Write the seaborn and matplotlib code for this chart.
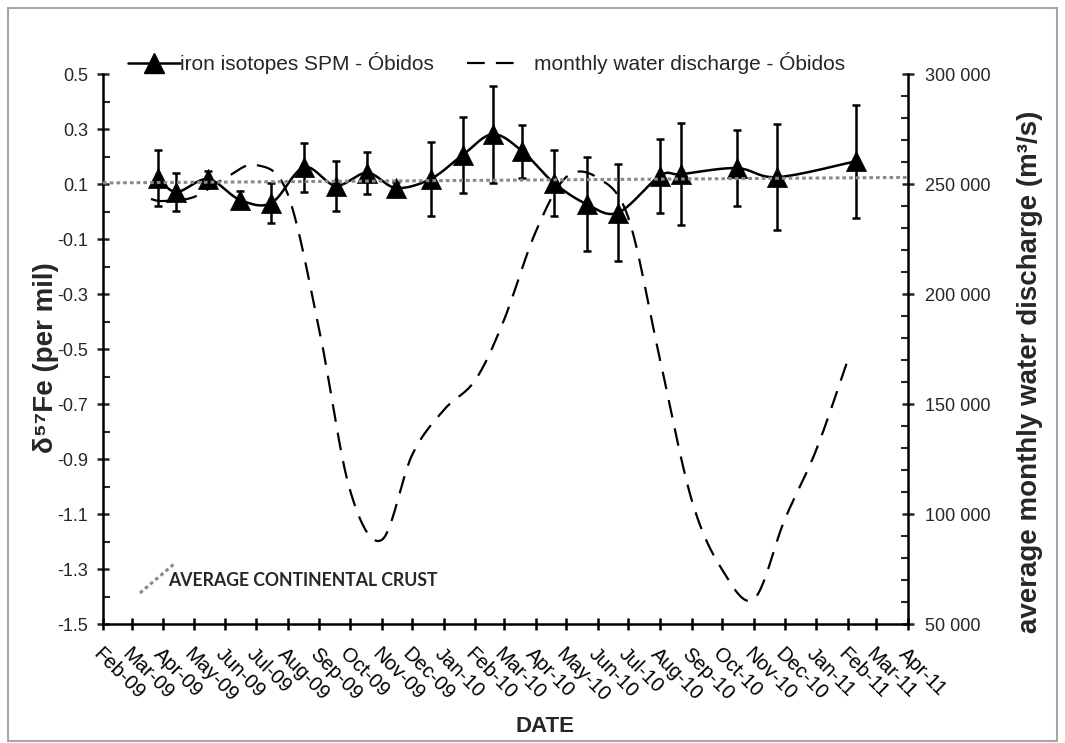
import numpy as np
import pandas as pd
import matplotlib
matplotlib.use("Agg")
import matplotlib.pyplot as plt
import matplotlib.dates as mdates
from matplotlib.lines import Line2D
from matplotlib.patches import Rectangle
from matplotlib.ticker import MultipleLocator, FixedLocator
import seaborn as sns

# --- iron isotope composition of suspended matter (Óbidos) ---
sample_dates = ["2009-03-27", "2009-04-14", "2009-05-15", "2009-06-15", "2009-07-16",
                "2009-08-17", "2009-09-17", "2009-10-18", "2009-11-15", "2009-12-19",
                "2010-01-20", "2010-02-18", "2010-03-19", "2010-04-19", "2010-05-21",
                "2010-06-21", "2010-08-01", "2010-08-22", "2010-10-15", "2010-11-24",
                "2011-02-09"]
d57fe = [0.123, 0.072, 0.119, 0.044, 0.032, 0.162, 0.095, 0.142, 0.087, 0.119,
         0.208, 0.282, 0.220, 0.105, 0.028, -0.003, 0.131, 0.137, 0.159, 0.126, 0.184]
d57fe_err_low = [0.101, 0.068, 0.03, 0.03, 0.071, 0.089, 0.091, 0.076, 0.02, 0.133,
                 0.138, 0.176, 0.096, 0.119, 0.172, 0.175, 0.134, 0.185, 0.138, 0.192, 0.205]
d57fe_err_high = [0.101, 0.068, 0.03, 0.03, 0.071, 0.089, 0.091, 0.076, 0.02, 0.133,
                  0.138, 0.176, 0.096, 0.119, 0.172, 0.175, 0.134, 0.185, 0.138, 0.192, 0.205]

# --- average monthly water discharge at Óbidos (m3/s) ---
discharge_dates = ["2009-03-20", "2009-04-01", "2009-05-01", "2009-06-01", "2009-07-01",
                   "2009-08-01", "2009-09-01", "2009-10-01", "2009-11-01", "2009-12-01",
                   "2010-01-01", "2010-02-01", "2010-03-01", "2010-04-01", "2010-05-01",
                   "2010-06-01", "2010-07-01", "2010-08-01", "2010-09-01", "2010-10-01",
                   "2010-11-01", "2010-12-01", "2011-01-01", "2011-02-01"]
discharge = [243300, 242400, 244200, 252900, 258800, 245600, 183800, 111100, 88300,
             127000, 147400, 161100, 188300, 228300, 253300, 252900, 234700, 170200,
             106500, 74700, 61500, 97400, 129200, 170200]

# --- average continental crust reference ---
crust_dates = ["2009-02-01", "2011-04-01"]
crust_d57fe = [0.105, 0.125]

tick_months = pd.date_range("2009-02-01", "2011-04-01", freq="MS")
tick_labels = [d.strftime("%b-%y") for d in tick_months]
left_ticks = [-1.5, -1.3, -1.1, -0.9, -0.7, -0.5, -0.3, -0.1, 0.1, 0.3, 0.5]
right_ticks = [50000, 100000, 150000, 200000, 250000, 300000]


def smooth_curve(x, y, n=24):
    """Bezier smoothing through every point (Catmull-Rom style control points)."""
    pts = np.column_stack([x, y]).astype(float)
    out = [pts[0]]
    t = np.linspace(0, 1, n)[1:, None]
    for i in range(len(pts) - 1):
        p0 = pts[i - 1] if i > 0 else pts[i]
        p1, p2 = pts[i], pts[i + 1]
        p3 = pts[i + 2] if i + 2 < len(pts) else pts[i + 1]
        c1 = p1 + (p2 - p0) / 6.0
        c2 = p2 - (p3 - p1) / 6.0
        seg = ((1 - t) ** 3) * p1 + 3 * ((1 - t) ** 2) * t * c1 + 3 * (1 - t) * t ** 2 * c2 + t ** 3 * p2
        out.extend(seg)
    out = np.array(out)
    return out[:, 0], out[:, 1]


sns.set_style("ticks")
plt.rcParams["font.family"] = ["Liberation Sans", "DejaVu Sans"]

fig = plt.figure(figsize=(10.65, 7.43), dpi=100)
W, H = 1065, 743
x0, x1, y0, y1 = 103, 908, 74.3, 624.3
ax = fig.add_axes([x0 / W, 1 - y1 / H, (x1 - x0) / W, (y1 - y0) / H])
ax2 = ax.twinx()
ax.set_zorder(ax2.get_zorder() + 1)
ax.patch.set_visible(False)

sx = mdates.date2num(pd.to_datetime(sample_dates))
dx = mdates.date2num(pd.to_datetime(discharge_dates))
cx = mdates.date2num(pd.to_datetime(crust_dates))
tx = mdates.date2num(tick_months)

# discharge (right axis)
qx, qy = smooth_curve(dx, discharge)
ax2.plot(qx, qy, color="black", lw=1.6, dashes=(8, 5))

# iron isotopes (left axis)
fx, fy = smooth_curve(sx, d57fe)
ax.plot(fx, fy, color="black", lw=1.8, zorder=2)
ax.errorbar(sx, d57fe, yerr=[d57fe_err_low, d57fe_err_high], fmt="none", ecolor="black",
            elinewidth=1.8, capsize=3, capthick=1.8, zorder=3)
sns.scatterplot(x=sx, y=d57fe, marker="^", s=210, color="black", edgecolor="black",
                linewidth=0.5, ax=ax, zorder=4, legend=False)
ax.plot(cx, crust_d57fe, color="#8a8a8a", lw=2.2, dashes=(1.2, 1.0), zorder=5)

# axes limits and ticks
ax.set_xlim(tx[0], tx[-1])
ax.set_ylim(-1.5, 0.5)
ax2.set_ylim(50000, 300000)

ax.xaxis.set_major_locator(FixedLocator(tx))
ax.set_xticklabels(tick_labels, rotation=-45, ha="left", va="top", rotation_mode="anchor")
ax.set_yticks(left_ticks)
ax.set_yticklabels([f"{v:.1f}" for v in left_ticks])
ax.yaxis.set_minor_locator(MultipleLocator(0.1))
ax2.set_yticks(right_ticks)
ax2.set_yticklabels([f"{v:,}".replace(",", " ") for v in right_ticks])
ax2.yaxis.set_minor_locator(MultipleLocator(10000))

for a in (ax, ax2):
    for s in a.spines.values():
        s.set_linewidth(1.8)
        s.set_color("black")
ax.spines["top"].set_visible(False)
ax.spines["right"].set_visible(False)
ax2.spines["top"].set_visible(False)
ax2.spines["left"].set_visible(False)
ax2.spines["bottom"].set_visible(False)

ax.tick_params(axis="x", which="major", direction="inout", length=9, width=1.8,
               labelsize=14.5, pad=10, colors="black")
ax.tick_params(axis="y", which="major", direction="inout", length=9, width=1.8,
               labelsize=13, pad=6)
ax.tick_params(axis="y", which="minor", direction="in", length=5, width=1.5)
ax2.tick_params(axis="y", which="major", direction="inout", length=9, width=1.8,
                labelsize=13, pad=8)
ax2.tick_params(axis="y", which="minor", direction="in", length=5, width=1.5)

# axis titles
ax.set_ylabel("δ\u2075\u2077Fe (per mil)", fontsize=20, fontweight="bold")
ax.yaxis.set_label_coords(-0.055, 0.484)
ax2.set_ylabel("average monthly water discharge (m³/s)", fontsize=20, fontweight="bold",
               rotation=90)
ax2.yaxis.set_label_coords(1.135, 0.459)
fig.text(545 / W, 1 - 726 / H, "DATE", fontsize=16, fontweight="bold", ha="center", va="center")

# legend, one key per series
leg1 = fig.legend([Line2D([], [], color="black", lw=1.8, marker="^", ms=14)],
                  ["iron isotopes SPM - Óbidos"], loc="center left",
                  bbox_to_anchor=(128 / W, 1 - 63 / H), frameon=False, fontsize=15,
                  handlelength=2.5, handletextpad=0.0, borderpad=0, borderaxespad=0)
leg2 = fig.legend([Line2D([], [], color="black", lw=1.6, dashes=(8, 5))],
                  ["monthly water discharge - Óbidos"], loc="center left",
                  bbox_to_anchor=(467 / W, 1 - 63 / H), frameon=False, fontsize=15,
                  handlelength=2.5, handletextpad=0.7, borderpad=0, borderaxespad=0)

# reference line key
ax.add_line(Line2D([(140 - x0) / (x1 - x0), (174 - x0) / (x1 - x0)],
                   [(y1 - 593) / (y1 - y0), (y1 - 564) / (y1 - y0)],
                   transform=ax.transAxes, color="#8a8a8a", lw=2.2, dashes=(1.2, 1.0)))
ax.text((168 - x0) / (x1 - x0), (y1 - 580) / (y1 - y0), "AVERAGE CONTINENTAL CRUST",
        transform=ax.transAxes, fontsize=12.7, fontweight="bold", family="Lato",
        ha="left", va="center")

# chart frame
fig.add_artist(Rectangle((8 / W, 2 / H), 1049 / W, 733 / H, transform=fig.transFigure,
                         fill=False, edgecolor="#a6a6a6", lw=1.5))

fig.savefig("out.png", dpi=100)
